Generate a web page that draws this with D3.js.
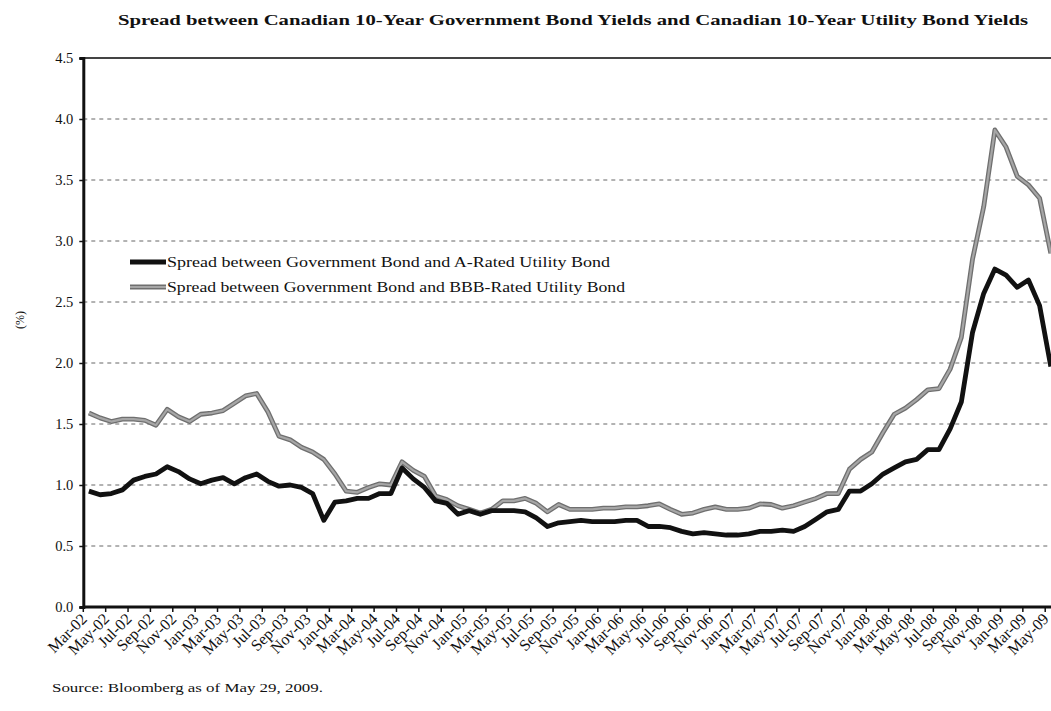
<!DOCTYPE html>
<html><head><meta charset="utf-8">
<script src="https://cdn.jsdelivr.net/npm/d3@7"></script>
<style>
body{margin:0;background:#fff;}
svg{display:block;}
svg text{font-family:"Liberation Serif","Times New Roman",serif;}
</style>
</head><body>
<svg id="c" width="1051" height="711"></svg>
<script>
const months = [
 "Mar-02","Apr-02","May-02","Jun-02","Jul-02","Aug-02","Sep-02","Oct-02","Nov-02","Dec-02",
 "Jan-03","Feb-03","Mar-03","Apr-03","May-03","Jun-03","Jul-03","Aug-03","Sep-03","Oct-03","Nov-03","Dec-03",
 "Jan-04","Feb-04","Mar-04","Apr-04","May-04","Jun-04","Jul-04","Aug-04","Sep-04","Oct-04","Nov-04","Dec-04",
 "Jan-05","Feb-05","Mar-05","Apr-05","May-05","Jun-05","Jul-05","Aug-05","Sep-05","Oct-05","Nov-05","Dec-05",
 "Jan-06","Feb-06","Mar-06","Apr-06","May-06","Jun-06","Jul-06","Aug-06","Sep-06","Oct-06","Nov-06","Dec-06",
 "Jan-07","Feb-07","Mar-07","Apr-07","May-07","Jun-07","Jul-07","Aug-07","Sep-07","Oct-07","Nov-07","Dec-07",
 "Jan-08","Feb-08","Mar-08","Apr-08","May-08","Jun-08","Jul-08","Aug-08","Sep-08","Oct-08","Nov-08","Dec-08",
 "Jan-09","Feb-09","Mar-09","Apr-09","May-09"
];
const tickLabels = months.filter((d, i) => i % 2 === 0);

const aRated = [
 0.95,0.92,0.93,0.96,1.04,1.07,1.09,1.15,1.11,1.05,
 1.01,1.04,1.06,1.01,1.06,1.09,1.03,0.99,1.00,0.98,0.93,0.71,
 0.86,0.87,0.89,0.89,0.93,0.93,1.14,1.05,0.98,0.87,0.85,0.76,
 0.79,0.76,0.79,0.79,0.79,0.78,0.73,0.66,0.69,0.70,0.71,0.70,
 0.70,0.70,0.71,0.71,0.66,0.66,0.65,0.62,0.60,0.61,0.60,0.59,
 0.59,0.60,0.62,0.62,0.63,0.62,0.66,0.72,0.78,0.80,0.95,0.95,
 1.01,1.09,1.14,1.19,1.21,1.29,1.29,1.46,1.68,2.25,2.57,2.77,
 2.72,2.62,2.68,2.47,1.97
];
const bbbRated = [
 1.59,1.55,1.52,1.54,1.54,1.53,1.49,1.62,1.56,1.52,
 1.58,1.59,1.61,1.67,1.73,1.75,1.60,1.40,1.37,1.31,1.27,1.21,
 1.09,0.95,0.94,0.98,1.01,1.00,1.19,1.12,1.07,0.91,0.88,0.83,
 0.80,0.77,0.80,0.87,0.87,0.89,0.85,0.78,0.84,0.80,0.80,0.80,
 0.81,0.81,0.82,0.82,0.83,0.845,0.80,0.76,0.77,0.80,0.82,0.80,
 0.80,0.81,0.845,0.84,0.81,0.83,0.86,0.89,0.93,0.93,1.13,1.21,
 1.27,1.43,1.58,1.63,1.70,1.78,1.79,1.95,2.21,2.85,3.28,3.91,
 3.77,3.53,3.46,3.35,2.90
];
const yTicks = [0,0.5,1.0,1.5,2.0,2.5,3.0,3.5,4.0,4.5];
const seriesNames = [
 "Spread between Government Bond and A-Rated Utility Bond",
 "Spread between Government Bond and BBB-Rated Utility Bond"
];
const titleText = "Spread between Canadian 10-Year Government Bond Yields and Canadian 10-Year Utility Bond Yields";
const sourceText = "Source: Bloomberg as of May 29, 2009.";

const FONT = "'Liberation Serif','Times New Roman',serif";
const svg = d3.select("#c");
const x0 = 83.3, bandW = 11.185;
const x = d3.scaleBand().domain(months).range([x0, x0 + bandW * months.length]).padding(0);
const y = d3.scaleLinear().domain([0, 4.5]).range([607, 58]);
const cx = m => x(m) + x.bandwidth() / 2;
const right = 1051;

// title
svg.append("text").attr("x", 118).attr("y", 25).attr("font-family", FONT)
  .attr("font-size", 14.5).attr("font-weight", "bold").attr("fill", "#111")
  .attr("textLength", 910).attr("lengthAdjust", "spacingAndGlyphs")
  .text(titleText);

// gridlines
svg.append("g").selectAll("line").data(yTicks.filter(v => v > 0 && v < 4.5)).join("line")
  .attr("x1", x0).attr("x2", right).attr("y1", d => y(d)).attr("y2", d => y(d))
  .attr("stroke", "#666").attr("stroke-width", 1).attr("stroke-dasharray", "4,4");
// top border
svg.append("line").attr("x1", x0).attr("x2", right).attr("y1", y(4.5)).attr("y2", y(4.5))
  .attr("stroke", "#444").attr("stroke-width", 1.8);

// lines
const line = d3.line().x((d, i) => cx(months[i])).y(d => y(d));
svg.append("path").datum(bbbRated).attr("d", line).attr("fill", "none")
  .attr("stroke", "#6f6f6f").attr("stroke-width", 4.8).attr("stroke-linejoin", "round");
svg.append("path").datum(bbbRated).attr("d", line).attr("fill", "none")
  .attr("stroke", "#a6a6a6").attr("stroke-width", 2.2).attr("stroke-linejoin", "round");
svg.append("path").datum(aRated).attr("d", line).attr("fill", "none")
  .attr("stroke", "#111").attr("stroke-width", 4.8).attr("stroke-linejoin", "round");

// y axis
const yAxis = svg.append("g").attr("transform", `translate(${x0},0)`)
  .call(d3.axisLeft(y).tickValues(yTicks).tickSize(4).tickPadding(6).tickFormat(d3.format(".1f")));
yAxis.attr("font-family", FONT).attr("font-size", 14.5);
yAxis.select(".domain").attr("stroke", "#111").attr("stroke-width", 3);
yAxis.selectAll(".tick line").attr("stroke", "#111").attr("stroke-width", 1.5);
yAxis.selectAll(".tick text").attr("font-size", 14.5).attr("fill", "#111").attr("font-family", FONT);

// x axis
const xg = svg.append("g");
xg.append("line").attr("x1", x0).attr("x2", right).attr("y1", y(0)).attr("y2", y(0))
  .attr("stroke", "#111").attr("stroke-width", 3);
xg.selectAll("line.tk").data(tickLabels).join("line").attr("class", "tk")
  .attr("x1", d => x(d)).attr("x2", d => x(d)).attr("y1", y(0)).attr("y2", y(0) + 5)
  .attr("stroke", "#111").attr("stroke-width", 1.5);
xg.selectAll("text").data(tickLabels).join("text")
  .attr("transform", d => `translate(${cx(d) - 5},${y(0) + 9}) rotate(-45)`)
  .attr("text-anchor", "end").attr("dy", "0.35em")
  .attr("font-family", FONT).attr("font-size", 16).attr("fill", "#111")
  .text(d => d);

// y label
svg.append("text").attr("transform", "translate(24,320) rotate(-90)").attr("font-family", FONT)
  .attr("text-anchor", "middle").attr("font-size", 12).attr("fill", "#111").text("(%)");

// legend
const leg = svg.append("g");
const legY = [262, 287];
leg.append("line").attr("x1", 130).attr("x2", 166).attr("y1", legY[0]).attr("y2", legY[0])
  .attr("stroke", "#111").attr("stroke-width", 4.8);
leg.append("line").attr("x1", 130).attr("x2", 166).attr("y1", legY[1]).attr("y2", legY[1])
  .attr("stroke", "#6f6f6f").attr("stroke-width", 4.8);
leg.append("line").attr("x1", 130).attr("x2", 166).attr("y1", legY[1]).attr("y2", legY[1])
  .attr("stroke", "#a6a6a6").attr("stroke-width", 2.2);
leg.append("text").attr("x", 167).attr("y", legY[0] + 4.5).attr("font-family", FONT)
  .attr("font-size", 14).attr("fill", "#111")
  .attr("textLength", 443).attr("lengthAdjust", "spacingAndGlyphs").text(seriesNames[0]);
leg.append("text").attr("x", 167).attr("y", legY[1] + 4.5).attr("font-family", FONT)
  .attr("font-size", 14).attr("fill", "#111")
  .attr("textLength", 458).attr("lengthAdjust", "spacingAndGlyphs").text(seriesNames[1]);

// source
svg.append("text").attr("x", 52).attr("y", 692).attr("font-family", FONT)
  .attr("font-size", 13.5).attr("fill", "#111")
  .attr("textLength", 271).attr("lengthAdjust", "spacingAndGlyphs").text(sourceText);
</script>
</body></html>
